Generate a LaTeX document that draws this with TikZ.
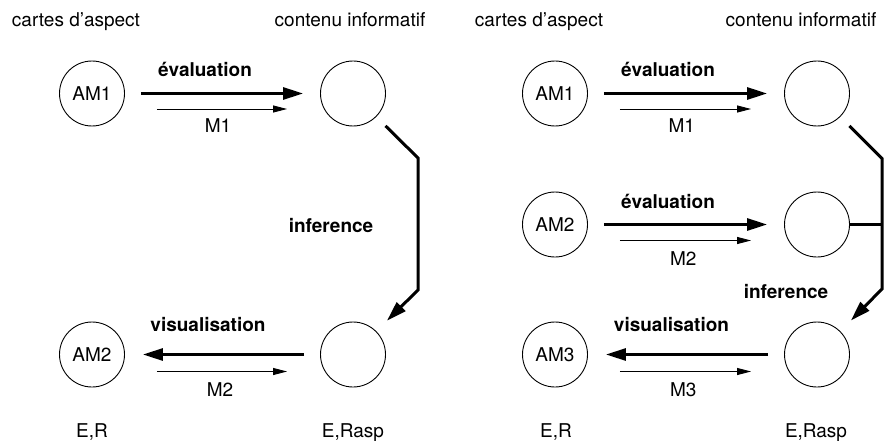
\documentclass[tikz,border=0pt]{standalone}
\usepackage{fontspec}
\setmainfont{TeX Gyre Heros}
\usepackage{tikz}
\usetikzlibrary{arrows.meta}
\tikzset{etat/.style={shape=circle,draw=black,line width=0.9pt,minimum size=65pt,inner sep=0pt,font=\fontsize{19}{22}\selectfont}}
\tikzset{grosse/.style={line width=3pt,-{Triangle[length=20pt,width=12pt]}}}
\tikzset{fine/.style={line width=0.9pt,-{Triangle[length=14pt,width=7pt]}}}
\tikzset{lien/.style={line width=3pt}}
\tikzset{txt/.style={anchor=base,inner sep=0pt,font=\fontsize{19}{22}\selectfont}}
\tikzset{gras/.style={anchor=base,inner sep=0pt,font=\fontsize{19}{22}\selectfont\bfseries}}

\begin{document}
\begin{tikzpicture}[x=1pt,y=-1pt]
    \useasboundingbox (0,0) rectangle (893,441);
    \node[txt] (titreA) at (76,27) {cartes d'aspect};
    \node[txt] (titreB) at (350,27) {contenu informatif};
    \node[txt] (titreC) at (539,27) {cartes d'aspect};
    \node[txt] (titreD) at (801,27) {contenu informatif};
    \node[etat] (a1) at (92,93.5) {AM1};
    \node[etat] (c1) at (353,93.5) {};
    \node[etat] (a2) at (92,354.5) {AM2};
    \node[etat] (c2) at (353,354.5) {};
    \draw[grosse,shorten <=16pt,shorten >=17pt] (a1) -- (c1);
    \draw[fine,shorten <=32pt,shorten >=33pt] ([yshift=-15.5pt]a1.east) -- ([yshift=-15.5pt]c1.west);
    \node[gras] (evalA) at (205,77) {évaluation};
    \node[txt] (mA1) at (218,132.7) {M1};
    \draw[grosse,shorten <=16pt,shorten >=18pt] (c2) -- (a2);
    \draw[fine,shorten <=32pt,shorten >=33pt] ([yshift=-17pt]a2.east) -- ([yshift=-17pt]c2.west);
    \node[gras] (visuA) at (208,331) {visualisation};
    \node[txt] (mA2) at (220,396) {M2};
    \coordinate (k1) at (418,158);
    \coordinate (k2) at (418,290);
    \draw[lien,-{Triangle[length=20pt,width=12pt]},shorten <=13pt,shorten >=15pt] (c1.-45) -- (k1) -- (k2) -- (c2.45);
    \node[gras] (infA) at (331,232.5) {inference};
    \node[txt] (erA) at (92,437) {E,R};
    \node[txt] (raspA) at (353,437) {E,Rasp};
    \node[etat] (b1) at (555,93.5) {AM1};
    \node[etat] (e1) at (817,93.5) {};
    \node[etat] (b2) at (555,224.5) {AM2};
    \node[etat] (e2) at (817,224.5) {};
    \node[etat] (b3) at (555,354.5) {AM3};
    \node[etat] (e3) at (817,354.5) {};
    \draw[grosse,shorten <=16pt,shorten >=17pt] (b1) -- (e1);
    \draw[fine,shorten <=32pt,shorten >=33pt] ([yshift=-15.5pt]b1.east) -- ([yshift=-15.5pt]e1.west);
    \node[gras] (evalB) at (668,77) {évaluation};
    \node[txt] (mB1) at (681.7,132.7) {M1};
    \draw[grosse,shorten <=16pt,shorten >=17pt] (b2) -- (e2);
    \draw[fine,shorten <=32pt,shorten >=33pt] ([yshift=-16pt]b2.east) -- ([yshift=-16pt]e2.west);
    \node[gras] (evalC) at (668,208) {évaluation};
    \node[txt] (mB2) at (683.3,265) {M2};
    \draw[grosse,shorten <=16pt,shorten >=18pt] (e3) -- (b3);
    \draw[fine,shorten <=32pt,shorten >=33pt] ([yshift=-17pt]b3.east) -- ([yshift=-17pt]e3.west);
    \node[gras] (visuB) at (671.5,331) {visualisation};
    \node[txt] (mB3) at (683.3,396) {M3};
    \coordinate (r1) at (882,158.5);
    \coordinate (r2) at (882,224.5);
    \coordinate (r3) at (882,289);
    \draw[lien,-{Triangle[length=20pt,width=12pt]},shorten <=13pt,shorten >=15pt] (e1.-45) -- (r1) -- (r3) -- (e3.45);
    \draw[lien] (e2.east) -- (r2);
    \node[gras] (infB) at (786,298) {inference};
    \node[txt] (erB) at (556,437) {E,R};
    \node[txt] (raspB) at (816,437) {E,Rasp};
\end{tikzpicture}
\end{document}
